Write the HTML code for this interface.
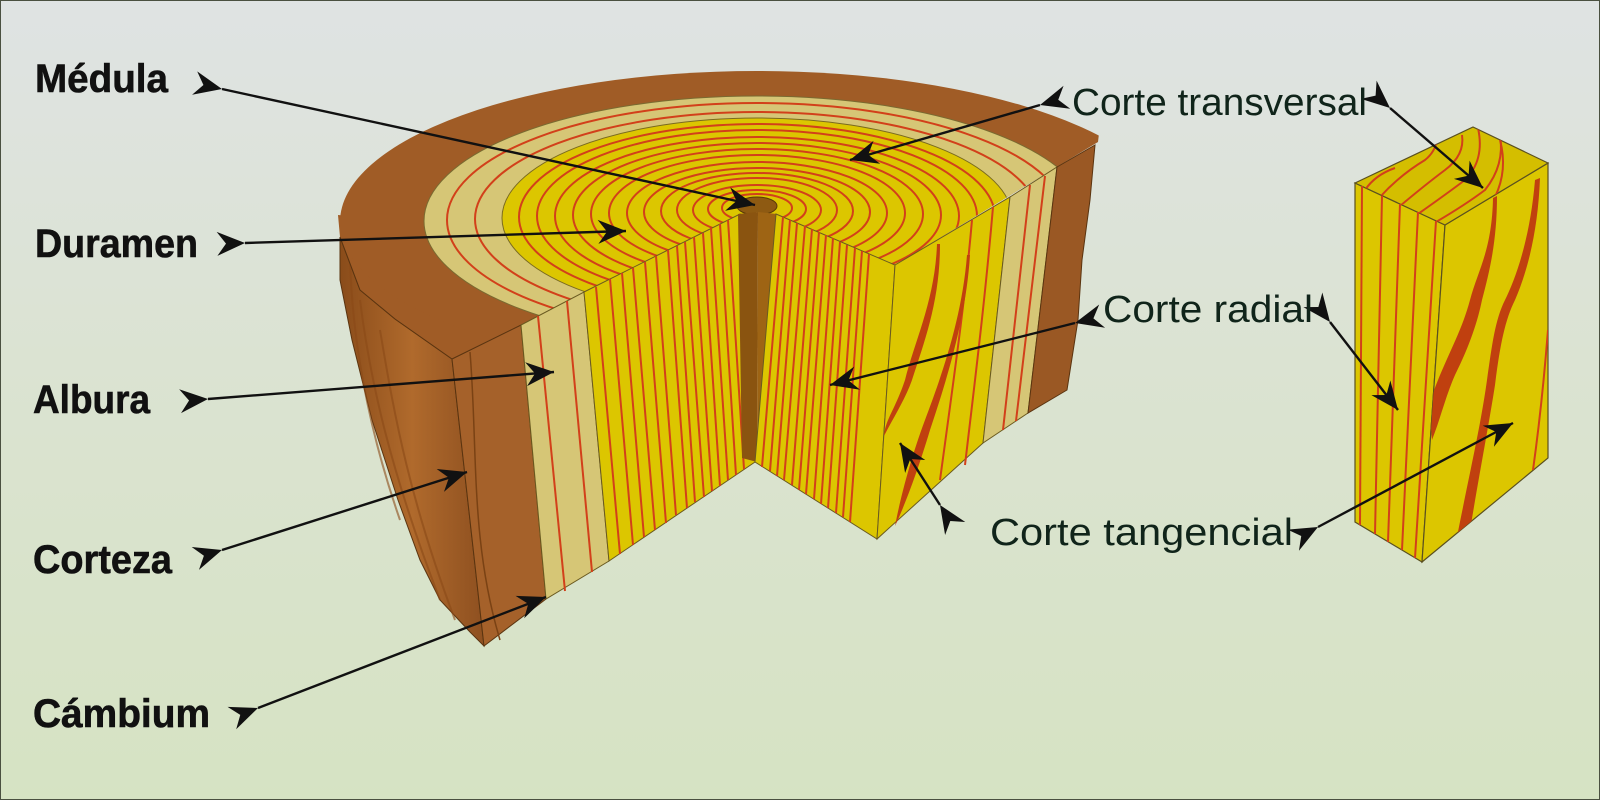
<!DOCTYPE html>
<html><head><meta charset="utf-8"><style>
html,body{margin:0;padding:0;width:1600px;height:800px;overflow:hidden}
svg{display:block}
.lab{font-family:"Liberation Sans",sans-serif;font-weight:bold;font-size:40px;fill:#111;stroke:#111;stroke-width:0.6}
.rl{font-family:"Liberation Sans",sans-serif;font-size:38px;fill:#10241a}
.r{stroke:#d2401a;stroke-width:2;fill:none}
.ar{stroke:#111;stroke-width:2.4;fill:none}
</style></head><body>
<svg width="1600" height="800" viewBox="0 0 1600 800" xmlns="http://www.w3.org/2000/svg">
<defs>
<linearGradient id="bg" x1="0" y1="0" x2="0" y2="1">
<stop offset="0" stop-color="#dfe3e3"/><stop offset="0.45" stop-color="#dbe3d2"/><stop offset="1" stop-color="#d6e3c3"/></linearGradient>
<linearGradient id="bark" x1="0" y1="0" x2="1" y2="0">
<stop offset="0" stop-color="#8a4c1a"/><stop offset="0.5" stop-color="#b06a2c"/><stop offset="1" stop-color="#8e5020"/></linearGradient>
<clipPath id="top"><polygon points="300,40 1110,40 1098,142 895,265 757,212 452,359 300,359"/></clipPath>
<clipPath id="btop"><polygon points="1355,183 1473,127 1548,163 1445,225"/></clipPath>
<clipPath id="bfront"><polygon points="1445,225 1548,163 1548,458 1422,562"/></clipPath>
<marker id="h" markerWidth="34" markerHeight="30" refX="30" refY="13" orient="auto" markerUnits="userSpaceOnUse">
<path d="M30,13 L2,1 L11,13 L2,25 Z" fill="#111"/></marker>
</defs>
<rect width="1600" height="800" fill="url(#bg)"/>
<rect x="0.5" y="0.5" width="1599" height="799" fill="none" stroke="#4a5040" stroke-width="1"/>

<!-- Outer bark left side -->
<polygon points="340,237 360,290 395,319 452,359 484,646 470,632 440,600 420,560 398,500 372,420 352,340 340,280" fill="url(#bark)" stroke="#5a3410" stroke-width="1"/>
<path d="M360,300 C370,380 390,470 440,600 M380,330 C395,420 410,500 455,620 M350,260 C352,330 365,420 400,520" stroke="#8a4a18" stroke-width="2" fill="none" opacity="0.6"/>

<!-- Top surface -->
<g clip-path="url(#top)">
<polygon points="338,215 340,237 360,290 395,319 452,359 620,275 500,230" fill="#a05c26"/>
<ellipse cx="757" cy="222" rx="417" ry="151" fill="#a05c26"/>
<ellipse cx="757" cy="221" rx="333" ry="125" fill="#d6c676" stroke="#7a6a30" stroke-width="1"/>
<ellipse cx="757" cy="220" rx="310" ry="117" class="r"/>
<ellipse cx="757" cy="219" rx="282" ry="107" class="r"/>
<ellipse cx="757" cy="218" rx="255" ry="100" fill="#dcc600" stroke="#7a6a20" stroke-width="1"/>
<ellipse cx="757" cy="217" rx="238" ry="93" class="r"/>
<ellipse cx="757" cy="216" rx="220" ry="86" class="r"/>
<ellipse cx="757" cy="216" rx="202" ry="79" class="r"/>
<ellipse cx="757" cy="215" rx="184" ry="72" class="r"/>
<ellipse cx="757" cy="214" rx="166" ry="65" class="r"/>
<ellipse cx="757" cy="213" rx="148" ry="58" class="r"/>
<ellipse cx="757" cy="213" rx="130" ry="51" class="r"/>
<ellipse cx="757" cy="212" rx="113" ry="44" class="r"/>
<ellipse cx="757" cy="211" rx="96" ry="38" class="r"/>
<ellipse cx="757" cy="210" rx="80" ry="32" class="r"/>
<ellipse cx="757" cy="210" rx="64" ry="25" class="r"/>
<ellipse cx="757" cy="209" rx="49" ry="19" class="r"/>
<ellipse cx="757" cy="208" rx="35" ry="14" class="r"/>
<ellipse cx="757" cy="206" rx="20" ry="9" fill="#8e5a12" stroke="#5a3a08" stroke-width="1"/>
</g>
<path d="M340,237 L360,290 L395,319 L452,359" stroke="#5a3410" stroke-width="1" fill="none"/>

<!-- Left cut face -->
<polygon points="452,359 521,325 546,599 484,646" fill="#a5612a" stroke="#5a3410" stroke-width="1"/>
<path d="M470,352 C478,450 470,540 500,640" stroke="#7a4214" stroke-width="1.5" fill="none"/>
<polygon points="521,325 584,292 609,561 546,599" fill="#d6c676" stroke="#6a5a20" stroke-width="1"/>
<polygon points="584,292 740,214 755,462 609,561" fill="#dcc600" stroke="#6a5a20" stroke-width="1"/>
<g class="r">
<line x1="538" y1="316" x2="565" y2="591"/><line x1="567" y1="301" x2="592" y2="572"/>
<line x1="596" y1="287" x2="620" y2="554"/><line x1="610" y1="279" x2="633" y2="545"/>
<line x1="622" y1="273" x2="644" y2="537"/><line x1="633" y1="268" x2="655" y2="530"/>
<line x1="645" y1="262" x2="666" y2="523"/><line x1="656" y1="256" x2="676" y2="515"/>
<line x1="668" y1="250" x2="687" y2="508"/><line x1="677" y1="246" x2="695" y2="502"/>
<line x1="685" y1="242" x2="704" y2="497"/><line x1="694" y1="237" x2="712" y2="491"/>
<line x1="703" y1="233" x2="720" y2="486"/><line x1="711" y1="228" x2="728" y2="480"/>
<line x1="720" y1="224" x2="736" y2="475"/><line x1="728" y1="220" x2="744" y2="469"/>
</g>
<!-- medulla strip -->
<polygon points="738,214 758,212 757,462 742,458" fill="#8a5410"/>
<polygon points="758,212 777,214 772,470 757,462" fill="#9e6414"/>

<!-- Right face 1 -->
<polygon points="776,214 895,265 877,539 755,462" fill="#dcc600" stroke="#6a5a20" stroke-width="1"/>
<g class="r">
<line x1="783" y1="217" x2="762" y2="467"/><line x1="790" y1="220" x2="770" y2="471"/>
<line x1="797" y1="223" x2="777" y2="476"/><line x1="805" y1="226" x2="784" y2="480"/>
<line x1="812" y1="229" x2="792" y2="485"/><line x1="819" y1="232" x2="799" y2="490"/>
<line x1="826" y1="235" x2="806" y2="494"/><line x1="833" y1="238" x2="814" y2="499"/>
<line x1="840" y1="242" x2="821" y2="504"/><line x1="847" y1="245" x2="828" y2="508"/>
<line x1="855" y1="248" x2="836" y2="513"/><line x1="862" y1="251" x2="843" y2="517"/>
<line x1="869" y1="254" x2="850" y2="522"/>
</g>

<!-- Right face 2 -->
<polygon points="895,265 1010,197 983,443 877,539" fill="#dcc600" stroke="#6a5a20" stroke-width="1"/>
<polygon points="1010,197 1057,167 1028,413 983,443" fill="#d6c676" stroke="#6a5a20" stroke-width="1"/>
<polygon points="1057,167 1095,145 1090,200 1082,260 1078,320 1067,390 1028,413" fill="#9a5824" stroke="#5a3410" stroke-width="1"/>
<path d="M993,207 C985,300 975,380 965,465 M972,220 C965,300 955,370 940,480" class="r"/>
<path d="M1030,185 L1003,430 M1045,176 L1016,421" class="r"/>
<path d="M937,244 C935,300 915,340 905,380 C895,410 885,420 884,436 C892,420 905,400 912,380 C925,340 940,300 940,244 Z" fill="#c0400f"/>
<path d="M967,255 C962,320 940,380 925,420 C910,460 900,500 895,526 C905,505 918,470 930,430 C945,385 966,320 970,255 Z" fill="#c0400f"/>

<!-- Block -->
<polygon points="1355,183 1445,225 1422,562 1355,522" fill="#dcc600" stroke="#5a5020" stroke-width="1.2"/>
<polygon points="1445,225 1548,163 1548,458 1422,562" fill="#dcc600" stroke="#5a5020" stroke-width="1.2"/>
<polygon points="1355,183 1473,127 1548,163 1445,225" fill="#d4be00" stroke="#5a5020" stroke-width="1.2"/>
<g class="r">
<line x1="1362" y1="186" x2="1360" y2="525"/><line x1="1382" y1="196" x2="1375" y2="534"/>
<line x1="1400" y1="204" x2="1388" y2="542"/><line x1="1418" y1="212" x2="1402" y2="550"/>
<line x1="1436" y1="221" x2="1415" y2="558"/>
</g>
<g clip-path="url(#btop)" class="r">
<path d="M1365,190 Q1375,175 1395,168"/>
<path d="M1380,197 Q1400,175 1425,160 Q1435,152 1437,140"/>
<path d="M1400,206 Q1425,185 1445,170 Q1465,155 1462,135"/>
<path d="M1418,214 Q1445,195 1465,180 Q1485,160 1478,128"/>
<path d="M1436,222 Q1465,205 1485,190 Q1505,165 1500,135"/>
<path d="M1495,197 Q1508,170 1500,140"/>
</g>
<g clip-path="url(#bfront)">
<path d="M1493,198 C1492,250 1478,270 1470,300 C1462,330 1450,350 1436,385 C1430,400 1430,420 1432,440 C1440,420 1446,395 1455,375 C1470,345 1478,320 1482,300 C1490,270 1497,240 1497,196 Z" fill="#c0400f"/>
<path d="M1535,180 C1530,240 1515,280 1505,300 C1495,320 1492,345 1487,380 C1480,430 1470,470 1452,562 L1466,555 C1478,480 1488,430 1495,385 C1500,345 1505,320 1515,300 C1528,270 1538,230 1540,178 Z" fill="#c0400f"/>
<path d="M1548,330 C1544,380 1540,420 1533,470" class="r" stroke-width="3"/>
</g>

<!-- Arrows -->
<g class="ar">
<line x1="222" y1="89" x2="755" y2="205" marker-start="url(#h)" marker-end="url(#h)"/>
<line x1="245" y1="243" x2="626" y2="231" marker-start="url(#h)" marker-end="url(#h)"/>
<line x1="208" y1="399" x2="554" y2="372" marker-start="url(#h)" marker-end="url(#h)"/>
<line x1="222" y1="550" x2="467" y2="472" marker-start="url(#h)" marker-end="url(#h)"/>
<line x1="258" y1="708" x2="546" y2="597" marker-start="url(#h)" marker-end="url(#h)"/>
<line x1="1040" y1="105" x2="850" y2="160" marker-start="url(#h)" marker-end="url(#h)"/>
<line x1="1075" y1="323" x2="830" y2="385" marker-start="url(#h)" marker-end="url(#h)"/>
<line x1="940" y1="505" x2="900" y2="443" marker-start="url(#h)" marker-end="url(#h)"/>
<line x1="1390" y1="108" x2="1483" y2="188" marker-start="url(#h)" marker-end="url(#h)"/>
<line x1="1330" y1="322" x2="1398" y2="410" marker-start="url(#h)" marker-end="url(#h)"/>
<line x1="1318" y1="527" x2="1513" y2="423" marker-start="url(#h)" marker-end="url(#h)"/>
</g>

<!-- Labels -->
<text class="lab" x="35" y="92" textLength="133" lengthAdjust="spacingAndGlyphs">Médula</text>
<text class="lab" x="35" y="257" textLength="163" lengthAdjust="spacingAndGlyphs">Duramen</text>
<text class="lab" x="33" y="413" textLength="117" lengthAdjust="spacingAndGlyphs">Albura</text>
<text class="lab" x="33" y="573" textLength="139" lengthAdjust="spacingAndGlyphs">Corteza</text>
<text class="lab" x="33" y="727" textLength="177" lengthAdjust="spacingAndGlyphs">Cámbium</text>
<text class="rl" x="1072" y="115" textLength="295" lengthAdjust="spacingAndGlyphs">Corte transversal</text>
<text class="rl" x="1103" y="322" textLength="210" lengthAdjust="spacingAndGlyphs">Corte radial</text>
<text class="rl" x="990" y="545" textLength="303" lengthAdjust="spacingAndGlyphs">Corte tangencial</text>
</svg>
</body></html>
